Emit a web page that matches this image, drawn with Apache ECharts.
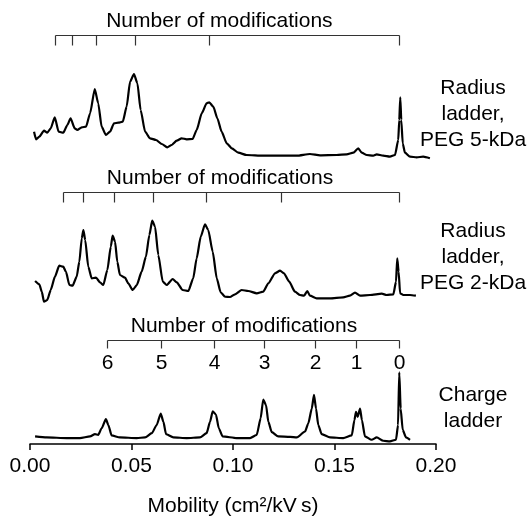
<!DOCTYPE html>
<html>
<head>
<meta charset="utf-8">
<script src="https://cdn.jsdelivr.net/npm/echarts@6/dist/echarts.min.js"></script>
<style>
  html, body { margin: 0; padding: 0; background: #fff; }
  #chart { width: 530px; height: 518px; }
</style>
</head>
<body>
<div id="chart"></div>
<script>
// Mobility axis ticks (cm^2/kV s)
const mobilityTicks = [0, 0.05, 0.10, 0.15, 0.20];

// Radius ladder, PEG 5-kDa electropherogram
const peg5Mobility = [0.0020,0.0030,0.0046,0.0069,0.0085,0.0102,0.0122,0.0141,0.0164,0.0184,0.0200,0.0220,0.0233,0.0255,0.0276,0.0296,0.0319,0.0336,0.0353,0.0374,0.0394,0.0414,0.0435,0.0457,0.0476,0.0493,0.0512,0.0529,0.0545,0.0567,0.0591,0.0621,0.0649,0.0676,0.0698,0.0723,0.0747,0.0772,0.0801,0.0821,0.0846,0.0870,0.0883,0.0903,0.0923,0.0944,0.0969,0.0994,0.1026,0.1067,0.1149,0.1232,0.1314,0.1379,0.1429,0.1511,0.1560,0.1593,0.1617,0.1634,0.1659,0.1691,0.1708,0.1740,0.1773,0.1798,0.1814,0.1819,0.1824,0.1829,0.1836,0.1847,0.1872,0.1905,0.1937,0.1970];
const peg5Signal   = [0.283,0.207,0.233,0.293,0.273,0.317,0.427,0.283,0.273,0.350,0.417,0.317,0.300,0.327,0.333,0.467,0.710,0.567,0.333,0.250,0.283,0.367,0.373,0.383,0.533,0.783,0.860,0.767,0.500,0.283,0.217,0.200,0.160,0.127,0.150,0.193,0.217,0.207,0.210,0.300,0.467,0.567,0.577,0.533,0.417,0.283,0.167,0.117,0.073,0.050,0.043,0.043,0.043,0.060,0.047,0.050,0.057,0.073,0.117,0.073,0.050,0.043,0.057,0.043,0.033,0.050,0.200,0.400,0.627,0.400,0.167,0.073,0.033,0.027,0.033,0.017];

// Radius ladder, PEG 2-kDa electropherogram
const peg2Mobility = [0.0025,0.0046,0.0058,0.0069,0.0085,0.0102,0.0123,0.0144,0.0164,0.0177,0.0194,0.0210,0.0230,0.0243,0.0255,0.0263,0.0272,0.0287,0.0304,0.0325,0.0345,0.0361,0.0381,0.0398,0.0407,0.0419,0.0430,0.0443,0.0468,0.0484,0.0506,0.0526,0.0550,0.0571,0.0588,0.0602,0.0616,0.0632,0.0654,0.0673,0.0703,0.0723,0.0752,0.0780,0.0804,0.0821,0.0841,0.0862,0.0878,0.0900,0.0920,0.0939,0.0961,0.0985,0.1010,0.1043,0.1075,0.1117,0.1149,0.1174,0.1207,0.1232,0.1251,0.1277,0.1305,0.1330,0.1350,0.1366,0.1379,0.1412,0.1478,0.1543,0.1576,0.1601,0.1626,0.1675,0.1733,0.1757,0.1790,0.1803,0.1809,0.1816,0.1823,0.1839,0.1872,0.1901];
const peg2Signal   = [0.240,0.207,0.133,0.033,0.050,0.150,0.283,0.393,0.383,0.333,0.200,0.193,0.283,0.433,0.667,0.750,0.650,0.383,0.267,0.273,0.227,0.200,0.350,0.583,0.693,0.633,0.433,0.300,0.273,0.217,0.150,0.200,0.333,0.483,0.700,0.843,0.783,0.500,0.233,0.200,0.260,0.227,0.150,0.140,0.267,0.467,0.683,0.807,0.750,0.533,0.267,0.127,0.083,0.080,0.107,0.150,0.140,0.117,0.133,0.217,0.317,0.343,0.317,0.233,0.133,0.100,0.093,0.140,0.093,0.067,0.067,0.077,0.093,0.123,0.093,0.100,0.113,0.100,0.107,0.233,0.467,0.333,0.117,0.100,0.100,0.093];

// Charge ladder electropherogram
const chargeMobility = [0.0025,0.0082,0.0181,0.0246,0.0296,0.0320,0.0336,0.0353,0.0374,0.0386,0.0402,0.0443,0.0526,0.0567,0.0600,0.0624,0.0644,0.0657,0.0670,0.0706,0.0772,0.0837,0.0870,0.0887,0.0900,0.0916,0.0930,0.0949,0.1018,0.1084,0.1117,0.1136,0.1149,0.1163,0.1174,0.1191,0.1223,0.1281,0.1314,0.1355,0.1371,0.1388,0.1399,0.1409,0.1420,0.1437,0.1478,0.1543,0.1585,0.1598,0.1606,0.1614,0.1626,0.1635,0.1650,0.1683,0.1708,0.1740,0.1773,0.1803,0.1813,0.1819,0.1826,0.1836,0.1852,0.1872];
const chargeSignal   = [0.077,0.067,0.060,0.060,0.077,0.100,0.093,0.160,0.253,0.193,0.087,0.067,0.060,0.067,0.110,0.193,0.310,0.227,0.100,0.067,0.060,0.067,0.110,0.227,0.333,0.300,0.160,0.077,0.060,0.060,0.093,0.260,0.453,0.393,0.227,0.120,0.077,0.073,0.067,0.127,0.210,0.360,0.500,0.360,0.193,0.100,0.067,0.060,0.087,0.243,0.327,0.277,0.360,0.243,0.077,0.043,0.067,0.033,0.027,0.043,0.193,0.730,0.360,0.143,0.067,0.043];

// Mobilities marking each number of modifications
const peg5ModTicks   = [0.0123, 0.0207, 0.0324, 0.0517, 0.0883, 0.1818];
const peg2ModTicks   = [0.0163, 0.0261, 0.0414, 0.0604, 0.0866, 0.1236, 0.1818];
const chargeModTicks = [0.0378, 0.0647, 0.0905, 0.1153, 0.1404, 0.1606, 0.1818];
const chargeModLabels = ['6', '5', '4', '3', '2', '1', '0'];

const bracketTitle = 'Number of modifications';
const panelNames = [
  ['Radius', 'ladder,', 'PEG 5-kDa'],
  ['Radius', 'ladder,', 'PEG 2-kDa'],
  ['Charge', 'ladder']
];

const FONT = '"Liberation Sans", Arial, Helvetica, sans-serif';
const INK = '#000';

// Panel layout: grid placement, y range, bracket level and title anchor
const panels = [
  { top: 25,  height: 135, yMax: 1.35, level: 1.25, tickLen: 10, titleAt: 0.0933,
    x: peg5Mobility, y: peg5Signal, ticks: peg5ModTicks, labels: null },
  { top: 185, height: 120, yMax: 1.20, level: 1.13, tickLen: 10, titleAt: 0.0936,
    x: peg2Mobility, y: peg2Signal, ticks: peg2ModTicks, labels: null },
  { top: 330, height: 116, yMax: 1.16, level: 1.06, tickLen: 8, titleAt: 0.1054,
    x: chargeMobility, y: chargeSignal, ticks: chargeModTicks, labels: chargeModLabels }
];

const grids = [], xAxes = [], yAxes = [], series = [];

panels.forEach((p, i) => {
  const isBottom = i === panels.length - 1;
  grids.push({ left: 30, right: 94, top: p.top, height: p.height });
  xAxes.push({
    gridIndex: i, type: 'value', min: mobilityTicks[0], max: mobilityTicks[mobilityTicks.length - 1],
    interval: mobilityTicks[1] - mobilityTicks[0],
    show: isBottom,
    name: isBottom ? 'Mobility (cm\u00B2/kV\u2009s)' : '',
    nameLocation: 'middle', nameGap: 52,
    nameTextStyle: { fontFamily: FONT, fontSize: 21, color: INK },
    axisLine: { show: true, onZero: false, lineStyle: { color: INK, width: 1.5 } },
    axisTick: { show: true, inside: false, length: 6, lineStyle: { color: INK, width: 1.5 } },
    axisLabel: { margin: 12, fontFamily: FONT, fontSize: 21, color: INK,
                 formatter: v => v.toFixed(2) },
    splitLine: { show: false }
  });
  yAxes.push({ gridIndex: i, type: 'value', min: 0, max: p.yMax, show: false, splitLine: { show: false } });

  series.push({
    type: 'line', xAxisIndex: i, yAxisIndex: i,
    data: p.x.map((m, k) => [m, p.y[k]]),
    showSymbol: false, symbol: 'none', clip: false, silent: true,
    smooth: 0.2, smoothMonotone: 'x',
    lineStyle: { color: '#000', width: 2.2, join: 'round' }
  });

  // Bracket showing the number of modifications above each trace
  series.push({
    type: 'custom', xAxisIndex: i, yAxisIndex: i, clip: false, silent: true,
    data: [[p.ticks[0], p.level]],
    renderItem: (params, api) => {
      const base = api.coord([p.ticks[0], p.level]);
      const y = Math.round(base[1]) + 0.5;
      const xs = p.ticks.map(t => Math.round(api.coord([t, p.level])[0]) + 0.5);
      const stroke = { stroke: '#333', lineWidth: 1.2 };
      const children = [{
        type: 'line', shape: { x1: xs[0], y1: y, x2: xs[xs.length - 1], y2: y }, style: stroke
      }];
      xs.forEach((x, k) => {
        children.push({ type: 'line', shape: { x1: x, y1: y, x2: x, y2: y + p.tickLen }, style: stroke });
        if (p.labels) {
          children.push({ type: 'text', x: x, y: y + 23,
            style: { text: p.labels[k], fill: INK, font: '21px ' + FONT, align: 'center', verticalAlign: 'middle' } });
        }
      });
      children.push({ type: 'text', x: api.coord([p.titleAt, p.level])[0], y: y - 14,
        style: { text: bracketTitle, fill: INK, font: '21px ' + FONT, align: 'center', verticalAlign: 'middle' } });
      return { type: 'group', children: children };
    }
  });
});

// Trace names on the right
const nameCenters = [[473, 114], [473, 257], [473, 408]];
const graphics = panelNames.map((lines, i) => ({
  type: 'text', x: nameCenters[i][0], y: nameCenters[i][1],
  style: { text: lines.join('\n'), fill: INK, font: '21px ' + FONT,
           align: 'center', verticalAlign: 'middle', lineHeight: 26 }
}));

const chart = echarts.init(document.getElementById('chart'), null, { renderer: 'canvas' });
chart.setOption({
  animation: false,
  backgroundColor: '#fff',
  grid: grids, xAxis: xAxes, yAxis: yAxes, series: series,
  graphic: graphics
});
</script>
</body>
</html>
